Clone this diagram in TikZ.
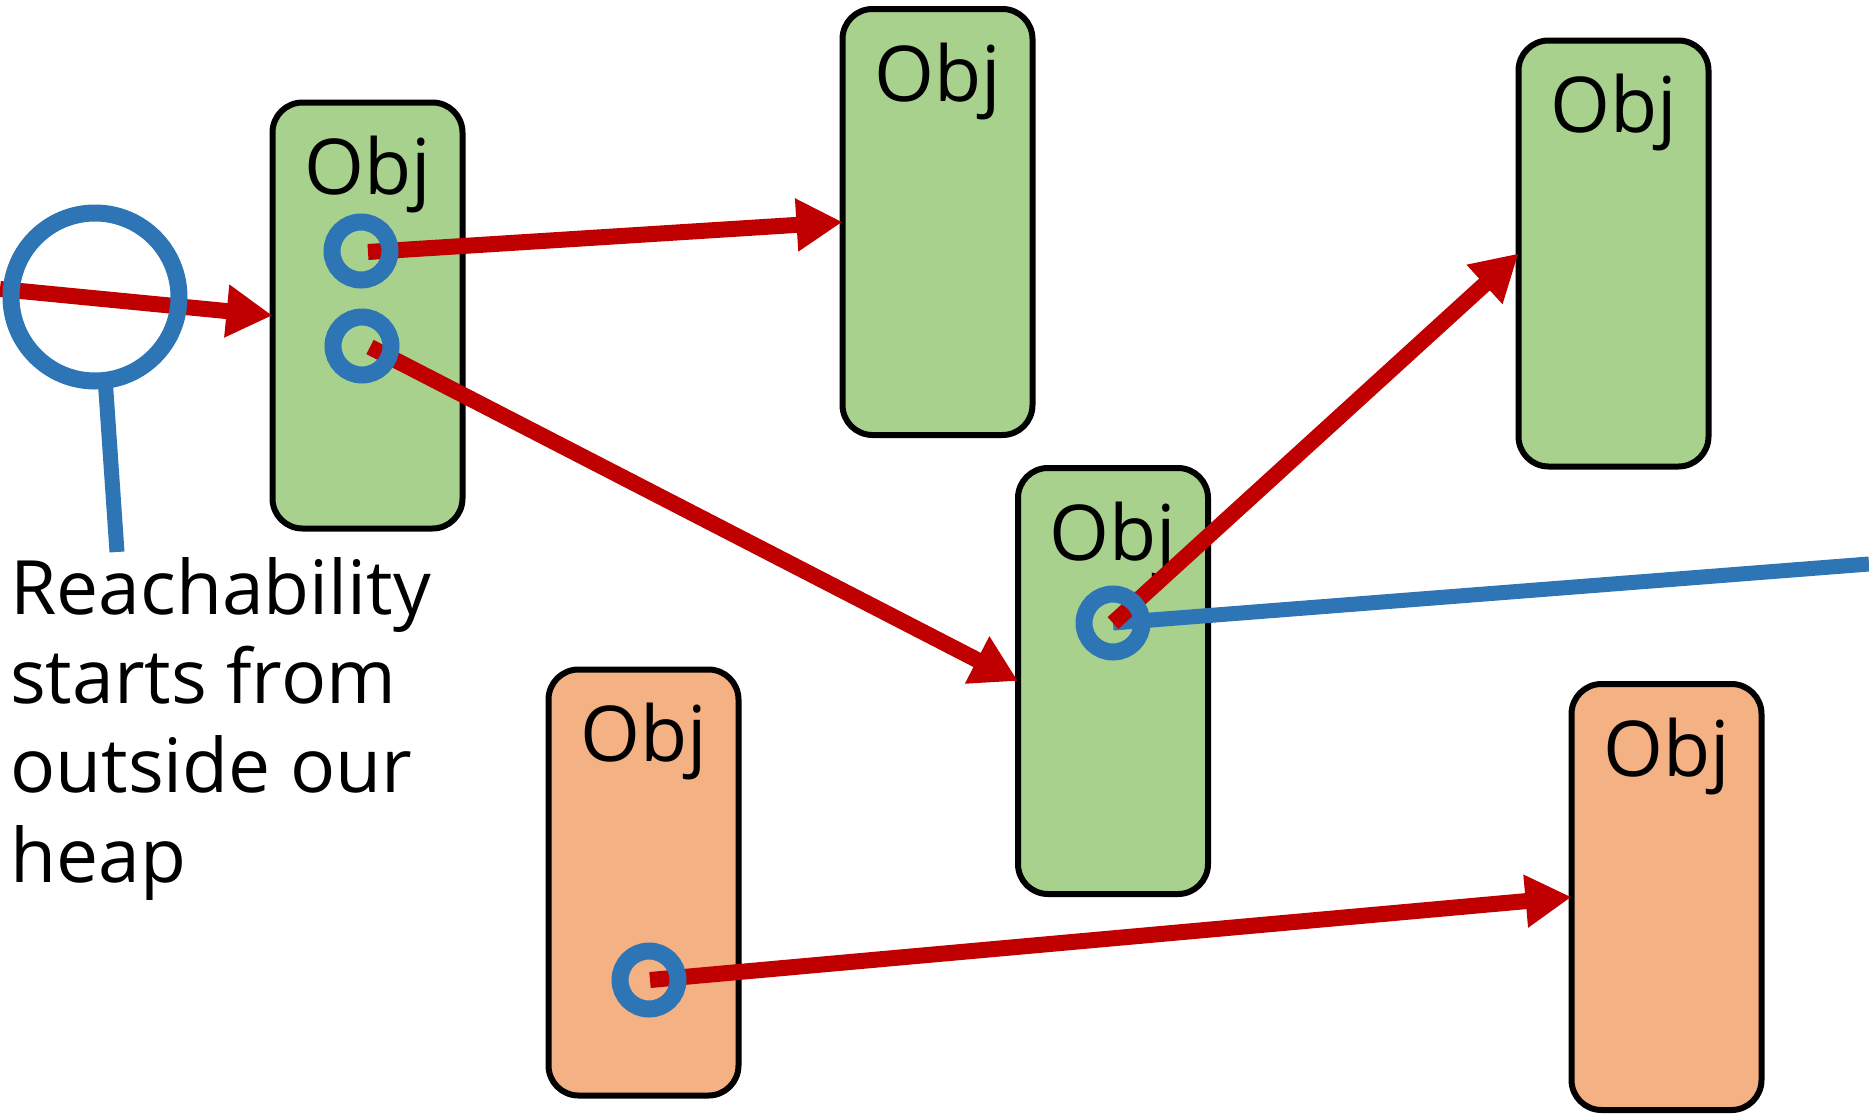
\documentclass[tikz,border=0pt]{standalone}
\usepackage{fontspec}
\setmainfont{Open Sans}
\usetikzlibrary{arrows.meta,calc}

\definecolor{objgreen}{HTML}{A9D18E}
\definecolor{objorange}{HTML}{F4B183}
\definecolor{refred}{HTML}{C00000}
\definecolor{refblue}{HTML}{2E75B6}

\begin{document}
\begin{tikzpicture}[x=1pt,y=-1pt,
  obj/.style={draw=black, line width=6pt, rounded corners=30pt,
    minimum width=190pt, minimum height=426pt, inner sep=0pt, outer sep=0pt},
  live/.style={obj, fill=objgreen},
  dead/.style={obj, fill=objorange},
  objlabel/.style={anchor=base, inner sep=0pt, font=\fontsize{77}{90}\selectfont},
  note/.style={anchor=base west, inner sep=0pt, font=\fontsize{75}{89}\selectfont},
  slot/.style={circle, draw=refblue, line width=17pt, minimum size=58pt,
    inner sep=0pt, outer sep=0pt},
  rootring/.style={circle, draw=refblue, line width=17pt, minimum size=168pt,
    inner sep=0pt, outer sep=0pt},
  ref/.style={draw=refred, line width=16pt, line cap=butt,
    -{Triangle[length=46pt,width=50pt]}},
  bluewire/.style={draw=refblue, line width=15pt, line cap=butt}
]
\useasboundingbox (0,0) rectangle (1869,1114);

% heap objects
\node[live] (A) at (367.5,315.5) {};
\node[live] (B) at (937.5,222) {};
\node[live] (C) at (1613.5,253.5) {};
\node[live] (D) at (1113,681) {};
\node[dead] (E) at (643.5,882.5) {};
\node[dead] (F) at (1666.5,897) {};

\foreach \o in {A,B,C,D,E,F}
  \node[objlabel] (\o-name) at ($(\o.north)+(0,92)$) {Obj};

% reference slots inside objects
\coordinate (A1) at (361,251);
\coordinate (A2) at (362,346);
\coordinate (D1) at (1113,623);
\coordinate (E1) at (649,980);

% root outside the heap
\coordinate (rootc) at (95,297);
\coordinate (in) at (0,289);
\coordinate (stemend) at (117,552);
\coordinate (away) at (1869,564);

% link leaving the heap
\draw[bluewire] (D1) -- (away);

% references
\draw[ref] (in) -- (A.west);
\draw[ref] ($(A1)+(7,1)$) -- (B.west);
\draw[ref] ($(A2)+(8,1)$) -- (D.west);
\draw[ref] (D1) -- (C.west);
\draw[ref] ($(E1)+(1,0)$) -- (F.west);

% slot rings on top of the references
\node[slot] (a1) at (A1) {};
\node[slot] (a2) at (A2) {};
\node[slot] (d1) at (D1) {};
\node[slot] (e1) at (E1) {};

\node[rootring] (root) at (rootc) {};
\draw[bluewire] (root.-83) -- (stemend);

% caption
\node[note] (t1) at (10,614) {Reachability};
\node[note] (t2) at (10,703) {starts from};
\node[note] (t3) at (10,792) {outside our};
\node[note] (t4) at (10,882) {heap};
\end{tikzpicture}
\end{document}
